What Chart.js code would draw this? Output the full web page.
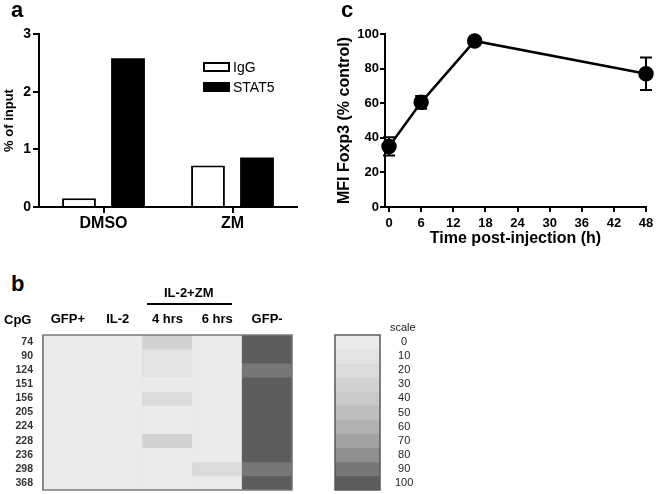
<!DOCTYPE html>
<html>
<head>
<meta charset="utf-8">
<script src="https://cdn.jsdelivr.net/npm/chart.js@4.4.0/dist/chart.umd.min.js"></script>
<style>
  body { margin: 0; background: #fff; font-family: 'Liberation Sans', Arial, sans-serif; }
  #page { position: relative; width: 658px; height: 494px; overflow: hidden; background: #fff; }
  canvas { position: absolute; }
  .txt { position: absolute; white-space: nowrap; line-height: 1; color: #000; }
  .panel { font-weight: bold; font-size: 22px; }
  .hdr { font-weight: bold; font-size: 13px; }
  .leg { font-size: 14px; }
  .box { position: absolute; width: 23px; height: 6px; border: 2px solid #000; }
</style>
</head>
<body>
<div id="page">
  <canvas id="chartA" width="320" height="240" style="left:0;top:0"></canvas>
  <canvas id="chartC" width="328" height="260" style="left:330px;top:0"></canvas>
  <canvas id="chartB" width="300" height="194" style="left:0;top:300px"></canvas>
  <canvas id="chartScale" width="110" height="194" style="left:330px;top:300px"></canvas>

  <div class="txt panel" style="left:11px;top:-1px">a</div>
  <div class="txt panel" style="left:341px;top:-1px">c</div>
  <div class="txt panel" style="left:11px;top:273px">b</div>

  <div class="box" style="left:203px;top:62px;background:#fff"></div>
  <div class="txt leg" style="left:233px;top:60px">IgG</div>
  <div class="box" style="left:203px;top:82px;background:#000"></div>
  <div class="txt leg" style="left:233px;top:80px">STAT5</div>

  <div class="txt hdr" style="left:4px;top:313px">CpG</div>
  <div class="txt hdr" style="left:164px;top:286px">IL-2+ZM</div>
  <div style="position:absolute;left:147px;top:303px;width:85px;height:2px;background:#000"></div>
  <div class="txt" style="left:390px;top:322px;font-size:11px;font-family:'Liberation Sans Narrow','Liberation Sans',sans-serif;color:#222">scale</div>
</div>
<script>
// panel a - ChIP
var groups = ['DMSO', 'ZM'];
var igg = [0.15, 0.72];
var stat5 = [2.58, 0.86];

// panel c - time course
var hours = [0, 6, 16, 48];
var mfi = [35, 60.5, 96, 77];
var mfiSem = [5.3, 3.7, 1, 9.4];
var hourTicks = [0, 6, 12, 18, 24, 30, 36, 42, 48];

// panel b - methylation heatmap (0-100)
var cpg = ['74', '90', '124', '151', '156', '205', '224', '228', '236', '298', '368'];
var columns = ['GFP+', 'IL-2', '4 hrs', '6 hrs', 'GFP-'];
var gfpPos = [0, 0, 0, 0, 0, 0, 0, 0, 0, 0, 0];
var il2 = [0, 0, 0, 0, 0, 0, 0, 0, 0, 0, 0];
var zm4h = [30, 10, 10, 0, 20, 0, 0, 30, 0, 0, 0];
var zm6h = [0, 0, 0, 0, 0, 0, 0, 0, 0, 20, 0];
var gfpNeg = [100, 100, 90, 100, 100, 100, 100, 100, 100, 90, 100];
var scaleSteps = [0, 10, 20, 30, 40, 50, 60, 70, 80, 90, 100];

var greys = ['#ebebeb', '#e3e3e3', '#dbdbdb', '#d2d2d2', '#c9c9c9', '#bebebe',
             '#b2b2b2', '#a2a2a2', '#8f8f8f', '#777777', '#5d5d5d'];
function shade(v) { return greys[Math.round(v / 10)]; }

var sans = "'Liberation Sans', Arial, sans-serif";
Chart.defaults.font.family = sans;
Chart.defaults.color = '#000';

// Panel a
new Chart(document.getElementById('chartA'), {
  type: 'bar',
  data: {
    labels: groups,
    datasets: [
      { label: 'IgG', data: igg, backgroundColor: '#fff', borderColor: '#000', borderWidth: 2 },
      { label: 'STAT5', data: stat5, backgroundColor: '#000', borderColor: '#000', borderWidth: 0 }
    ]
  },
  options: {
    responsive: false,
    animation: false,
    layout: { padding: { top: 34, right: 23, left: 0, bottom: 0 } },
    categoryPercentage: 0.76,
    barPercentage: 0.69,
    plugins: { legend: { display: false }, tooltip: { enabled: false } },
    scales: {
      x: {
        grid: { offset: false, drawOnChartArea: false, tickLength: 6, color: '#000', lineWidth: 2 },
        border: { color: '#000', width: 2 },
        ticks: { font: { size: 16, weight: 'bold' }, padding: 1 },
        afterFit: function (s) { s.height = 33; }
      },
      y: {
        min: 0, max: 3,
        grid: { drawOnChartArea: false, tickLength: 6, color: '#000', lineWidth: 2 },
        border: { color: '#000', width: 2 },
        ticks: { stepSize: 1, font: { size: 14, weight: 'bold' }, padding: 2 },
        title: { display: true, text: '% of input', font: { size: 13, weight: 'bold' }, padding: { top: 2, bottom: 0 } },
        afterFit: function (s) { s.width = 39; }
      }
    }
  }
});

// Panel c
var errorBars = {
  id: 'errorBars',
  afterDatasetsDraw: function (chart) {
    var ctx = chart.ctx, xs = chart.scales.x, ys = chart.scales.y;
    ctx.save();
    ctx.strokeStyle = '#000';
    ctx.lineWidth = 2;
    for (var i = 0; i < hours.length; i++) {
      var x = xs.getPixelForValue(hours[i]);
      var top = ys.getPixelForValue(mfi[i] + mfiSem[i]);
      var bot = ys.getPixelForValue(mfi[i] - mfiSem[i]);
      ctx.beginPath();
      ctx.moveTo(x, top); ctx.lineTo(x, bot);
      ctx.moveTo(x - 6, top); ctx.lineTo(x + 6, top);
      ctx.moveTo(x - 6, bot); ctx.lineTo(x + 6, bot);
      ctx.stroke();
    }
    ctx.restore();
  }
};

new Chart(document.getElementById('chartC'), {
  type: 'line',
  data: {
    datasets: [{
      data: hours.map(function (h, i) { return { x: h, y: mfi[i] }; }),
      borderColor: '#000', borderWidth: 2.5,
      pointRadius: 6.5, pointBackgroundColor: '#000', pointBorderColor: '#000',
      tension: 0, clip: false
    }]
  },
  plugins: [errorBars],
  options: {
    responsive: false,
    animation: false,
    layout: { padding: { top: 34, right: 12, left: 0, bottom: 12 } },
    plugins: { legend: { display: false }, tooltip: { enabled: false } },
    scales: {
      x: {
        type: 'linear', min: -0.75, max: 48,
        afterBuildTicks: function (axis) { axis.ticks = hourTicks.map(function (v) { return { value: v }; }); },
        grid: { drawOnChartArea: false, tickLength: 5, color: '#000', lineWidth: 2 },
        border: { color: '#000', width: 2 },
        ticks: { font: { size: 13, weight: 'bold' }, padding: 4, maxRotation: 0 },
        title: { display: true, text: 'Time post-injection (h)', font: { size: 16, weight: 'bold' }, padding: { top: 0, bottom: 0 } },
        afterFit: function (s) { s.height = 41; }
      },
      y: {
        min: 0, max: 100,
        grid: { drawOnChartArea: false, tickLength: 5, color: '#000', lineWidth: 2 },
        border: { color: '#000', width: 2 },
        ticks: { stepSize: 20, font: { size: 13, weight: 'bold' }, padding: 1 },
        title: { display: true, text: 'MFI Foxp3 (% control)', font: { size: 16, weight: 'bold' }, padding: { top: 5, bottom: 0 } },
        afterFit: function (s) { s.width = 55; }
      }
    }
  }
});

// Panel b heatmap
function frame(color) {
  return {
    id: 'frame',
    afterDraw: function (chart) {
      var a = chart.chartArea, ctx = chart.ctx;
      ctx.save();
      ctx.strokeStyle = color;
      ctx.lineWidth = 1.5;
      ctx.strokeRect(a.left, a.top, a.right - a.left, a.bottom - a.top);
      ctx.restore();
    }
  };
}

var dividerColors = ['#777', '#222', '#333', '#777', '#222', '#777'];
var methyl = [gfpPos, il2, zm4h, zm6h, gfpNeg];
new Chart(document.getElementById('chartB'), {
  type: 'bar',
  data: {
    labels: columns,
    datasets: cpg.map(function (c, r) {
      return {
        label: c,
        data: columns.map(function () { return 1; }),
        backgroundColor: methyl.map(function (col) { return shade(col[r]); }),
        borderWidth: 0
      };
    })
  },
  plugins: [frame('#7a7a7a')],
  options: {
    responsive: false,
    animation: false,
    categoryPercentage: 1,
    barPercentage: 1,
    layout: { padding: { top: 0, right: 8, left: 0, bottom: 4 } },
    plugins: { legend: { display: false }, tooltip: { enabled: false } },
    scales: {
      x: {
        position: 'top', stacked: true,
        grid: { offset: true, drawTicks: false, lineWidth: 1.2,
                color: function (ctx) { return dividerColors[ctx.index] || '#222'; } },
        border: { display: false },
        ticks: { font: { size: 13, weight: 'bold' }, padding: 8 },
        afterFit: function (s) { s.height = 35; }
      },
      y: {
        stacked: true, min: 0, max: 11, reverse: true,
        afterBuildTicks: function (axis) { axis.ticks = cpg.map(function (c, i) { return { value: i + 0.5 }; }); },
        grid: { display: false, drawTicks: false },
        border: { display: false },
        ticks: { font: { size: 10.5, weight: 'bold' }, color: '#333', padding: 10, autoSkip: false,
                 callback: function (v, i) { return cpg[i]; } },
        afterFit: function (s) { s.width = 43; s.paddingTop = 0; s.paddingBottom = 0; }
      }
    }
  }
});

// scale bar
new Chart(document.getElementById('chartScale'), {
  type: 'bar',
  data: {
    labels: [''],
    datasets: scaleSteps.map(function (s) {
      return { label: String(s), data: [1], backgroundColor: shade(s), borderWidth: 0 };
    })
  },
  plugins: [frame('#5a5a5a')],
  options: {
    responsive: false,
    animation: false,
    categoryPercentage: 1,
    barPercentage: 1,
    layout: { padding: { top: 35, right: 0, left: 5, bottom: 4 } },
    plugins: { legend: { display: false }, tooltip: { enabled: false } },
    scales: {
      x: { stacked: true, display: false },
      y: {
        position: 'right', stacked: true, min: 0, max: 11, reverse: true,
        afterBuildTicks: function (axis) { axis.ticks = scaleSteps.map(function (s, i) { return { value: i + 0.5 }; }); },
        grid: { display: false, drawTicks: false },
        border: { display: false },
        ticks: { font: { size: 11, family: "'Liberation Sans Narrow', 'Liberation Sans', sans-serif" }, color: '#222',
                 padding: 15, crossAlign: 'center', autoSkip: false,
                 callback: function (v, i) { return String(scaleSteps[i]); } },
        afterFit: function (s) { s.width = 60; s.paddingTop = 0; s.paddingBottom = 0; }
      }
    }
  }
});
</script>
</body>
</html>
